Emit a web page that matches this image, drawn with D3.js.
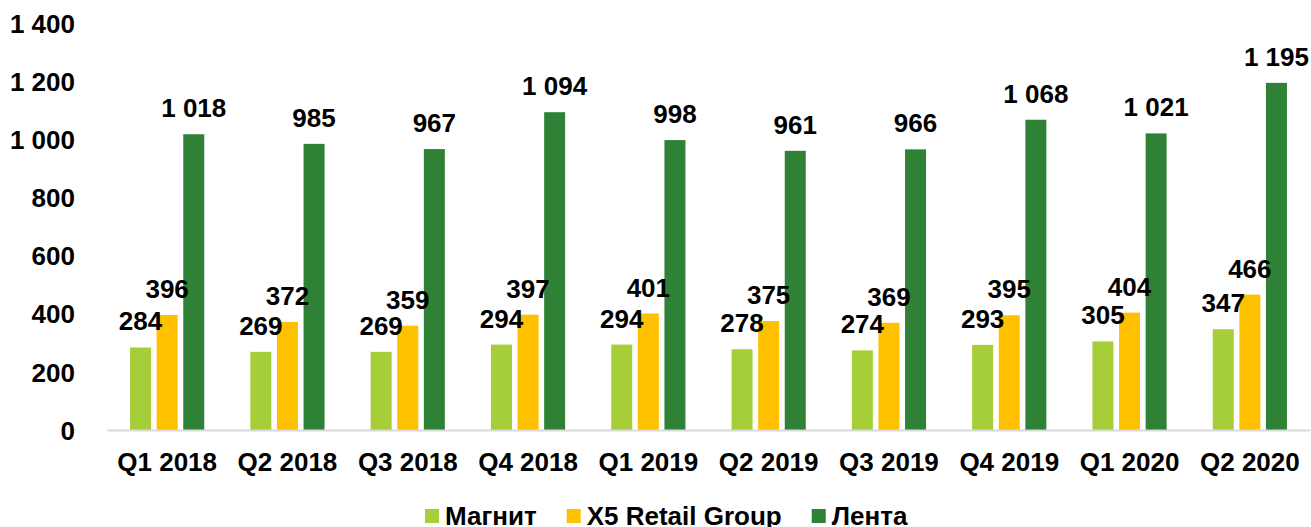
<!DOCTYPE html>
<html>
<head>
<meta charset="utf-8">
<script src="https://cdn.jsdelivr.net/npm/d3@7"></script>
<style>
  body { margin: 0; background: #fff; }
  svg text { font-family: Arial, "Liberation Sans", sans-serif; font-weight: bold; fill: #000; }
</style>
</head>
<body>
<script>
// data
var quarters = ["Q1 2018", "Q2 2018", "Q3 2018", "Q4 2018", "Q1 2019", "Q2 2019", "Q3 2019", "Q4 2019", "Q1 2020", "Q2 2020"];
var seriesNames = ["Магнит", "X5 Retail Group", "Лента"];
var magnit = [284, 269, 269, 294, 294, 278, 274, 293, 305, 347];
var x5 = [396, 372, 359, 397, 401, 375, 369, 395, 404, 466];
var lenta = [1018, 985, 967, 1094, 998, 961, 966, 1068, 1021, 1195];
var yTicks = [0, 200, 400, 600, 800, 1000, 1200, 1400];

var colors = ["#A6CE39", "#FFC000", "#2E8135"];

var W = 1311, H = 527;
var plotLeft = 107, plotRight = 1310, plotBase = 430, plotTop = 23.3;

var fmt = d3.formatLocale({decimal: ",", thousands: " ", grouping: [3], currency: ["", ""]}).format(",d");

var svg = d3.select("body").append("svg")
  .attr("width", W)
  .attr("height", H);

var x = d3.scaleBand().domain(quarters).range([plotLeft, plotRight]);
var inner = d3.scalePoint().domain(seriesNames).range([-26.6, 26.6]);
var y = d3.scaleLinear().domain([0, 1400]).range([plotBase, plotTop]);
var barW = 21;

var rows = [];
quarters.forEach(function(q, i) {
  rows.push({q: q, s: seriesNames[0], v: magnit[i], c: colors[0]});
  rows.push({q: q, s: seriesNames[1], v: x5[i], c: colors[1]});
  rows.push({q: q, s: seriesNames[2], v: lenta[i], c: colors[2]});
});

// bars
svg.append("g").selectAll("rect")
  .data(rows)
  .enter()
  .append("rect")
  .attr("x", function(d) { return x(d.q) + x.bandwidth() / 2 + inner(d.s) - barW / 2; })
  .attr("y", function(d) { return y(d.v); })
  .attr("width", barW)
  .attr("height", function(d) { return plotBase - y(d.v); })
  .attr("fill", function(d) { return d.c; });

// x axis
var xAxis = svg.append("g")
  .attr("transform", "translate(0," + plotBase + ")")
  .call(d3.axisBottom(x).tickSize(0).tickSizeOuter(0));
xAxis.select(".domain").attr("stroke", "#D9D9D9").attr("stroke-width", 2);
xAxis.selectAll("text")
  .attr("y", 41)
  .attr("dy", null)
  .style("font-size", "26px")
  .style("font-family", "Arial, 'Liberation Sans', sans-serif")
  .style("font-weight", "bold");

// y axis
var yAxis = svg.append("g")
  .attr("transform", "translate(" + plotLeft + ",0)")
  .call(d3.axisLeft(y).tickValues(yTicks).tickSize(0).tickPadding(32).tickFormat(fmt));
yAxis.select(".domain").remove();
yAxis.selectAll("text")
  .attr("dy", "0.35em")
  .style("font-size", "26px")
  .style("font-family", "Arial, 'Liberation Sans', sans-serif")
  .style("font-weight", "bold");

// data labels
svg.append("g").selectAll("text")
  .data(rows)
  .enter()
  .append("text")
  .attr("x", function(d) { return x(d.q) + x.bandwidth() / 2 + inner(d.s); })
  .attr("y", function(d) { return y(d.v) - 17; })
  .attr("text-anchor", "middle")
  .style("font-size", "26px")
  .text(function(d) { return fmt(d.v); });

// legend
var lx = 425;
var legend = svg.append("g");
seriesNames.forEach(function(name, i) {
  legend.append("rect")
    .attr("x", lx)
    .attr("y", 509)
    .attr("width", 14)
    .attr("height", 14)
    .attr("fill", colors[i]);
  var t = legend.append("text")
    .attr("x", lx + 20)
    .attr("y", 525)
    .style("font-size", "26px")
    .text(name);
  lx = lx + 20 + t.node().getComputedTextLength() + 30;
});
</script>
</body>
</html>
